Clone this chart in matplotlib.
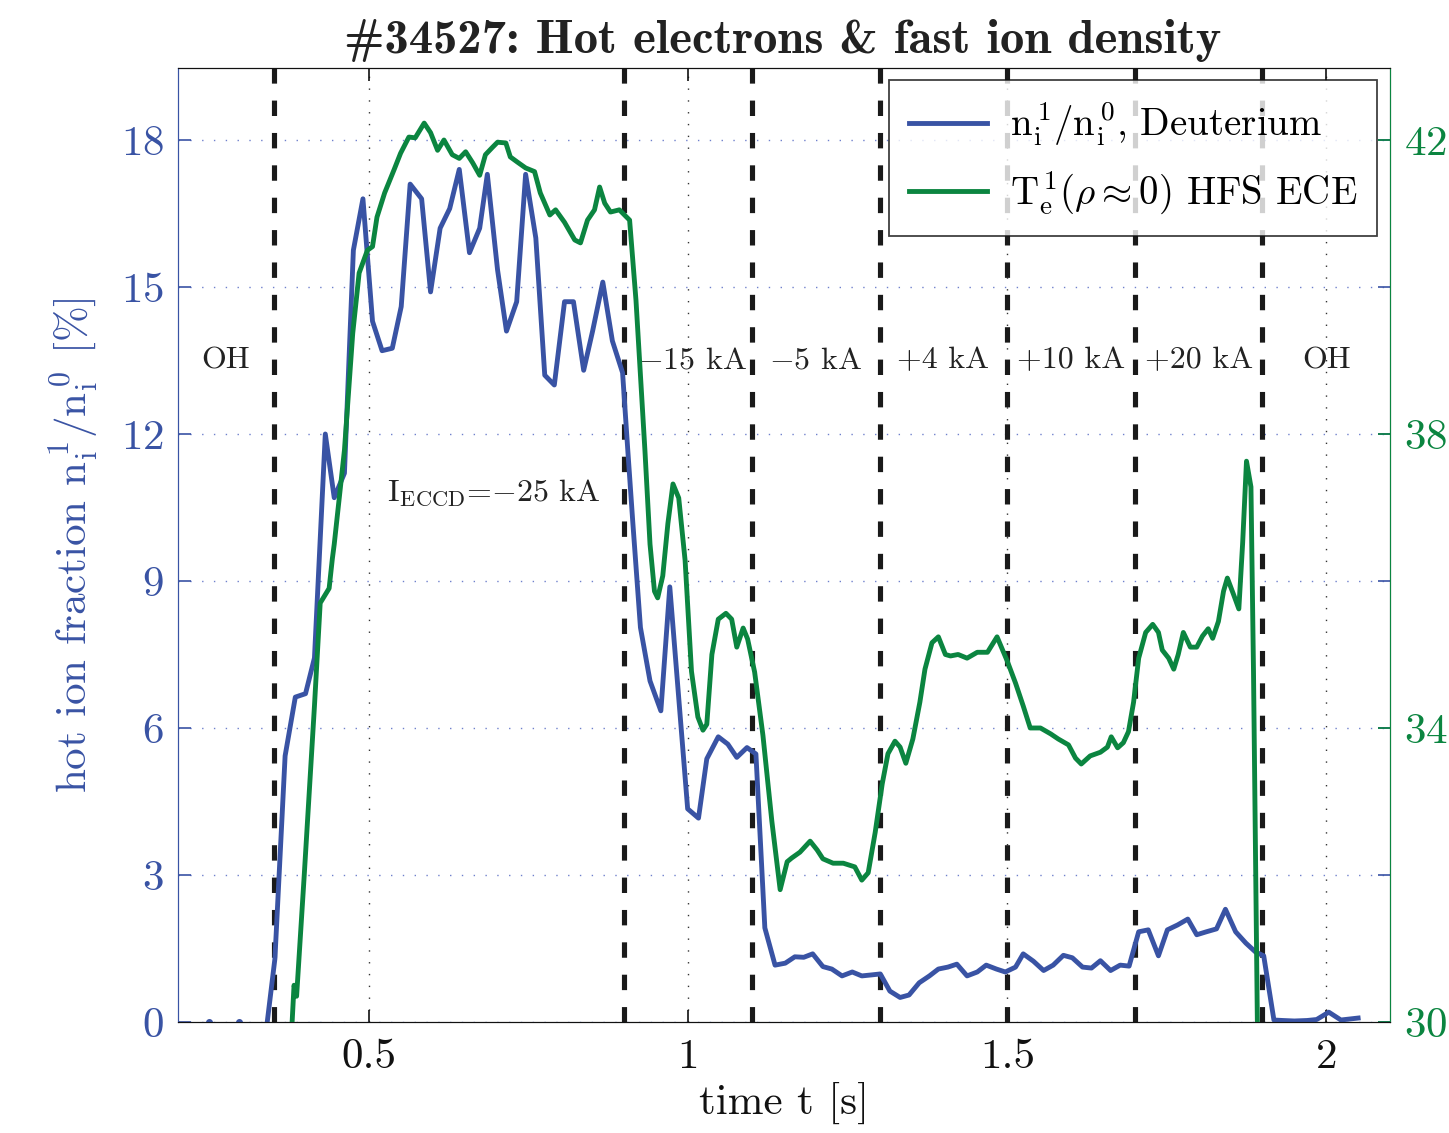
import matplotlib
matplotlib.use("Agg")
import matplotlib.pyplot as plt
import numpy as np

plt.rcParams["font.family"] = "serif"
plt.rcParams["font.serif"] = ["cmr10"]
plt.rcParams["mathtext.fontset"] = "cm"
plt.rcParams["axes.formatter.use_mathtext"] = True

# ── data ─────────────────────────────────────────────────────────────────────
# fast ion fraction n_i^1/n_i^0 [%] (left axis)
t_ni = [0.34, 0.352, 0.368, 0.384, 0.4, 0.414, 0.431, 0.445, 0.461, 0.475, 0.49,
        0.505, 0.52, 0.536, 0.55, 0.564, 0.582, 0.596, 0.611, 0.626, 0.641, 0.657,
        0.673, 0.685, 0.701, 0.715, 0.731, 0.745, 0.761, 0.775, 0.79, 0.806, 0.82,
        0.836, 0.85, 0.866, 0.881, 0.897, 0.905, 0.913, 0.925, 0.94, 0.957, 0.971,
        0.999, 1.016, 1.029, 1.047, 1.062, 1.076, 1.092, 1.106, 1.12, 1.136, 1.152,
        1.167, 1.181, 1.195, 1.211, 1.225, 1.241, 1.257, 1.272, 1.287, 1.301, 1.316,
        1.332, 1.346, 1.362, 1.378, 1.392, 1.407, 1.421, 1.437, 1.453, 1.467, 1.483,
        1.497, 1.513, 1.525, 1.541, 1.557, 1.572, 1.588, 1.602, 1.618, 1.632, 1.646,
        1.662, 1.677, 1.691, 1.706, 1.721, 1.737, 1.751, 1.767, 1.783, 1.797, 1.812,
        1.828, 1.842, 1.858, 1.874, 1.889, 1.902, 1.918, 1.932, 1.95, 1.97, 1.985,
        2.004, 2.023, 2.05]
ni_frac = [0.0, 1.29, 5.43, 6.63, 6.7, 7.43, 12.0, 10.7, 11.2, 15.75, 16.8,
           14.3, 13.7, 13.75, 14.6, 17.1, 16.8, 14.9, 16.2, 16.6, 17.4, 15.7,
           16.2, 17.3, 15.35, 14.1, 14.7, 17.3, 16.0, 13.2, 13.0, 14.7, 14.7,
           13.3, 14.1, 15.1, 13.9, 13.25, 11.7, 10.2, 8.05, 6.96, 6.35, 8.88,
           4.35, 4.16, 5.37, 5.82, 5.67, 5.4, 5.6, 5.47, 1.92, 1.16, 1.2,
           1.33, 1.32, 1.39, 1.13, 1.08, 0.94, 1.02, 0.94, 0.96, 0.98, 0.63,
           0.5, 0.55, 0.8, 0.94, 1.08, 1.12, 1.18, 0.94, 1.02, 1.16, 1.08,
           1.02, 1.12, 1.39, 1.24, 1.05, 1.16, 1.36, 1.31, 1.12, 1.1, 1.25,
           1.05, 1.16, 1.14, 1.84, 1.88, 1.35, 1.88, 1.98, 2.1, 1.78, 1.84,
           1.9, 2.3, 1.84, 1.61, 1.43, 1.35, 0.04, 0.03, 0.02, 0.03, 0.05,
           0.2, 0.04, 0.08]
t_ni_early = [0.249, 0.296]
ni_early = [0.0, 0.0]

# central electron temperature signal (right axis)
t_te = [0.376, 0.379, 0.382, 0.386, 0.398, 0.414, 0.423, 0.437, 0.442, 0.445,
        0.461, 0.474, 0.484, 0.497, 0.505, 0.512, 0.524, 0.539, 0.549, 0.562,
        0.572, 0.586, 0.596, 0.607, 0.617, 0.63, 0.641, 0.651, 0.662, 0.673,
        0.682, 0.693, 0.701, 0.714, 0.721, 0.732, 0.745, 0.759, 0.768, 0.783,
        0.792, 0.806, 0.822, 0.831, 0.842, 0.853, 0.861, 0.869, 0.878, 0.892,
        0.908, 0.918, 0.932, 0.94, 0.947, 0.952, 0.96, 0.968, 0.976, 0.985,
        0.995, 1.005, 1.015, 1.023, 1.029, 1.037, 1.047, 1.059, 1.068, 1.076,
        1.086, 1.093, 1.104, 1.117, 1.131, 1.144, 1.155, 1.162, 1.175, 1.191,
        1.202, 1.211, 1.227, 1.243, 1.261, 1.272, 1.282, 1.293, 1.304, 1.313,
        1.324, 1.332, 1.341, 1.352, 1.363, 1.371, 1.382, 1.392, 1.403, 1.411,
        1.423, 1.437, 1.453, 1.469, 1.484, 1.5, 1.513, 1.525, 1.536, 1.552,
        1.568, 1.58, 1.596, 1.607, 1.616, 1.63, 1.646, 1.657, 1.663, 1.673,
        1.682, 1.69, 1.698, 1.706, 1.717, 1.728, 1.737, 1.743, 1.753, 1.761,
        1.768, 1.776, 1.787, 1.797, 1.806, 1.815, 1.822, 1.831, 1.839, 1.845,
        1.855, 1.863, 1.869, 1.875, 1.882, 1.886, 1.892, 1.895]
te_hfs = [29.5, 30.0, 30.5, 30.35, 32.0, 34.3, 35.7, 35.9, 36.3, 36.5,
          37.78, 39.37, 40.19, 40.5, 40.55, 40.95, 41.28, 41.6, 41.82, 42.04,
          42.03, 42.23, 42.1, 41.86, 42.0, 41.8, 41.75, 41.84, 41.69, 41.52,
          41.8, 41.9, 41.97, 41.96, 41.77, 41.7, 41.62, 41.57, 41.28, 40.98,
          41.05, 40.88, 40.64, 40.6, 40.91, 41.05, 41.36, 41.14, 41.02, 41.05,
          40.91, 39.82, 37.78, 36.5, 35.86, 35.77, 36.07, 36.78, 37.32, 37.13,
          36.28, 34.77, 34.15, 33.97, 34.05, 35.0, 35.48, 35.56, 35.48, 35.1,
          35.36, 35.21, 34.76, 33.9, 32.73, 31.8, 32.18, 32.23, 32.31, 32.46,
          32.34, 32.22, 32.16, 32.16, 32.11, 31.93, 32.03, 32.58, 33.24, 33.65,
          33.82, 33.74, 33.52, 33.85, 34.35, 34.8, 35.16, 35.24, 35.0, 34.98,
          35.0, 34.95, 35.03, 35.03, 35.24, 34.91, 34.61, 34.3, 34.0, 34.0,
          33.92, 33.85, 33.77, 33.59, 33.51, 33.62, 33.67, 33.74, 33.88, 33.73,
          33.8, 33.95, 34.35, 34.95, 35.3, 35.41, 35.3, 35.06, 34.95, 34.8,
          35.0, 35.3, 35.1, 35.1, 35.25, 35.35, 35.22, 35.45, 35.86, 36.04,
          35.81, 35.62, 36.52, 37.63, 37.28, 34.76, 30.03, 29.0]

# ECCD phase boundaries and labels
phase_edges = [0.35, 0.9, 1.1, 1.3, 1.5, 1.7, 1.9]
phase_labels = ["OH", r"$-$15 kA", r"$-$5 kA", "+4 kA", "+10 kA", "+20 kA", "OH"]
phase_label_t = [0.275, 1.007, 1.2, 1.4, 1.6, 1.8, 2.0]

BLUE = "#3953a4"
GREEN = "#0b8540"

fig = plt.figure(figsize=(14.49, 11.33), dpi=100)
ax = fig.add_axes([0.1228, 0.098, 0.8365, 0.842])
ax2 = ax.twinx()

# ── left axis: fast ion fraction ─────────────────────────────────────────────
ax.set_xlim(0.2, 2.1)
ax.set_ylim(0, 19.47)
ax.set_yticks(np.arange(0, 19, 3))
ax.set_xticks([0.5, 1, 1.5, 2])
ax.set_xticklabels(["0.5", "1", "1.5", "2"])
ax.grid(True, axis="x", linestyle=(0, (1, 7.5)), color="#333333", linewidth=1.0)
ax.grid(True, axis="y", linestyle=(0, (1, 7.5)), color="#6f80cc", linewidth=1.0)

for te in phase_edges:
    ax.axvline(te, color="#1a1a1a", linewidth=3.7, dashes=(3.0, 3.3), zorder=3)

ln1, = ax.plot(t_ni, ni_frac, color=BLUE, linewidth=3.5, zorder=4,
               label=r"n$_\mathrm{i}^{\,1}$/n$_\mathrm{i}^{\,0}$, Deuterium")
ax.plot(t_ni_early, ni_early, "o", color=BLUE, markersize=4, zorder=4)

for lab, tx in zip(phase_labels, phase_label_t):
    ax.text(tx, 13.5, lab, ha="center", va="center", fontsize=23, color="#222222",
            zorder=5)
ax.text(0.695, 10.8, r"I$_\mathrm{ECCD}$=$-$25 kA", ha="center", va="center",
        fontsize=23, color="#222222", zorder=5)

ax.tick_params(axis="y", colors=BLUE, labelsize=31, direction="in", length=9,
               width=1.2, right=True, pad=10)
ax.tick_params(axis="x", colors="#111111", labelsize=31, direction="in",
               length=9, width=1.2, top=True, pad=12)
ax.spines["left"].set_color(BLUE)
ax.spines["bottom"].set_color("#111111")
ax.spines["top"].set_color("#111111")
ax.set_ylabel(r"hot ion fraction n$_\mathrm{i}^{\,1}$/n$_\mathrm{i}^{\,0}$ [%]",
              color=BLUE, fontsize=31, labelpad=14)
ax.set_xlabel("time t [s]", fontsize=31, color="#111111", labelpad=4)

# ── right axis: electron temperature ─────────────────────────────────────────
ln2, = ax2.plot(t_te, te_hfs, color=GREEN, linewidth=3.5, zorder=4,
                label=r"T$_\mathrm{e}^{\,1}$($\rho\approx$0) HFS ECE")
ax2.set_ylim(30, 42.98)
ax2.set_yticks([30, 34, 38, 42])
ax2.tick_params(axis="y", colors=GREEN, labelsize=31, direction="in", length=9,
                width=1.2, pad=10)
ax2.spines["right"].set_color(GREEN)
ax2.spines["left"].set_color(BLUE)
ax2.spines["top"].set_color("#111111")
ax2.spines["bottom"].set_color("#111111")

leg = ax2.legend(handles=[ln1, ln2], loc="upper right", fontsize=28,
                 frameon=True, fancybox=False, edgecolor="#111111",
                 handlelength=2.0, handletextpad=0.6, borderaxespad=0.0,
                 labelspacing=0.55, borderpad=0.5,
                 bbox_to_anchor=(0.989, 0.987))
leg.get_frame().set_linewidth(1.3)
leg.set_zorder(10)

fig.suptitle("#34527: Hot electrons & fast ion density", fontfamily="cmb10",
             fontsize=35, x=0.54, y=0.983, color="#222222")

fig.savefig("out.png", dpi=100)
